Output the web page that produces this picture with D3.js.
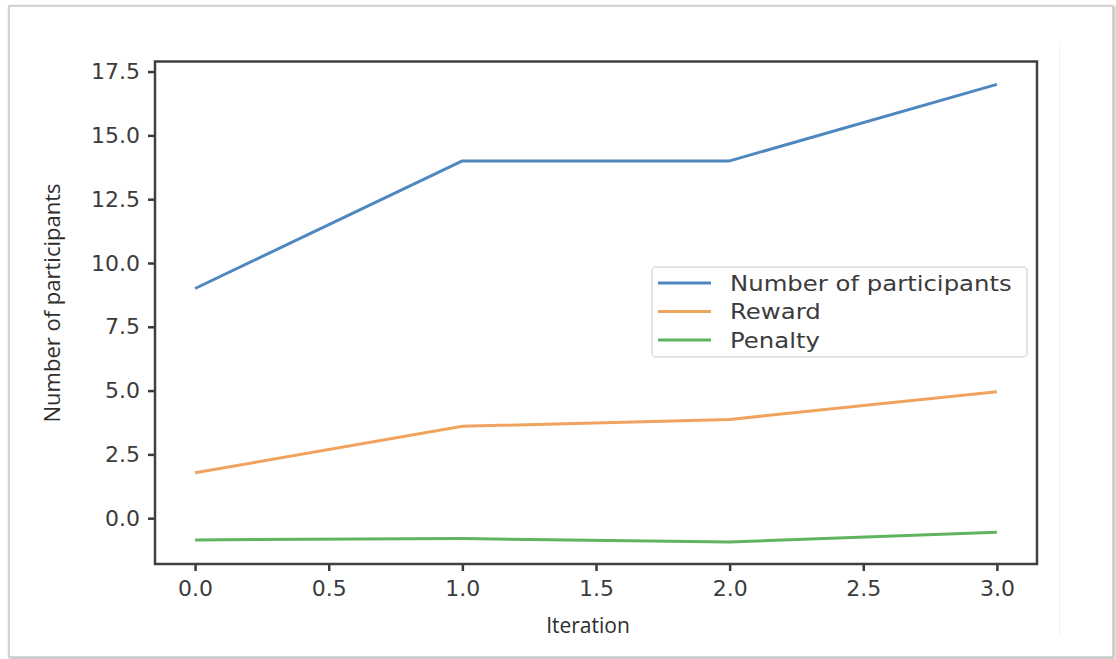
<!DOCTYPE html>
<html><head><meta charset="utf-8">
<script src="https://cdn.jsdelivr.net/npm/d3@7"></script>
<style>html,body{margin:0;padding:0;background:#fff;}svg{display:block;}</style>
</head><body>
<svg id="chart" width="1116" height="659"></svg>
<script>
const iterations = [0, 1, 2, 3];
const participants = [9, 14, 14, 17];
const reward = [1.78, 3.6, 3.87, 4.95];
const penalty = [-0.85, -0.8, -0.93, -0.55];
const xTicks = [0, 0.5, 1, 1.5, 2, 2.5, 3];
const yTicks = [0, 2.5, 5, 7.5, 10, 12.5, 15, 17.5];
const seriesNames = ["Number of participants", "Reward", "Penalty"];
const seriesColors = ["#4f87bf", "#f0a35e", "#5fb45f"];

const svg = d3.select("#chart");
const defs = svg.append("defs");
const f = defs.append("filter").attr("id","sh").attr("x","-5%").attr("y","-5%").attr("width","110%").attr("height","110%");
f.append("feDropShadow").attr("dx",1).attr("dy",1).attr("stdDeviation",1.5).attr("flood-color","#000").attr("flood-opacity",0.35);

// outer frame
svg.append("rect").attr("x",9).attr("y",6).attr("width",1104).attr("height",651)
  .attr("fill","#fff").attr("stroke","#c8c8c8").attr("stroke-width",1.5).attr("filter","url(#sh)");
svg.append("line").attr("x1",1059.5).attr("x2",1059.5).attr("y1",42).attr("y2",637).attr("stroke","#f2f2f2").attr("stroke-width",1);

const L = 155, R = 1037, T = 61.5, B = 564;
const x = d3.scaleLinear().domain([-0.15, 3.15]).range([L, R]);
const y = d3.scaleLinear().domain([-1.795, 17.895]).range([B, T]);

const tickColor = "#3a3a3a";
const fontTick = "'DejaVu Sans', sans-serif";

const xa = svg.append("g").attr("transform",`translate(0,${B})`)
  .call(d3.axisBottom(x).tickValues(xTicks).tickFormat(d3.format(".1f")).tickSize(7).tickPadding(9));
const ya = svg.append("g").attr("transform",`translate(${L},0)`)
  .call(d3.axisLeft(y).tickValues(yTicks).tickFormat(d3.format(".1f")).tickSize(7).tickPadding(8));
[xa, ya].forEach(a => {
  a.select(".domain").remove();
  a.selectAll("line").attr("stroke", tickColor).attr("stroke-width", 2.5);
  a.selectAll("text").attr("fill", "#3c3c3c").attr("font-family", fontTick).attr("font-size", 22);
});

svg.append("rect").attr("x",L).attr("y",T).attr("width",R-L).attr("height",B-T)
  .attr("fill","none").attr("stroke","#404040").attr("stroke-width",2.5);

const seriesData = [participants, reward, penalty];
const line = d3.line().x((d,i)=>x(iterations[i])).y(d=>y(d));
seriesData.forEach((s,k)=>{
  svg.append("path").datum(s).attr("d",line).attr("fill","none")
    .attr("stroke",seriesColors[k]).attr("stroke-width",3).attr("stroke-linejoin","round");
});

// legend
const lg = svg.append("g");
lg.append("rect").attr("x",652).attr("y",267).attr("width",375).attr("height",90).attr("rx",4)
  .attr("fill","#fff").attr("stroke","#dcdcdc").attr("stroke-width",1.5);
seriesNames.forEach((n,k)=>{
  const yy = 283 + k*28.5;
  lg.append("line").attr("x1",658).attr("x2",711).attr("y1",yy).attr("y2",yy)
    .attr("stroke",seriesColors[k]).attr("stroke-width",3);
  lg.append("text").attr("transform",`translate(730,${yy+7.5}) scale(1.16,1)`).text(n)
    .attr("font-family",fontTick).attr("font-size",21).attr("fill","#3c3c3c");
});

// axis labels
svg.append("text").attr("x",588).attr("y",633).attr("text-anchor","middle")
  .attr("font-family","'Open Sans', sans-serif").attr("font-size",21).attr("fill","#2e2e2e").text("Iteration");
svg.append("text").attr("transform",`translate(60,303) rotate(-90)`).attr("text-anchor","middle")
  .attr("font-family","'Open Sans', sans-serif").attr("font-size",22).attr("fill","#2e2e2e").text("Number of participants");
</script>
</body></html>
